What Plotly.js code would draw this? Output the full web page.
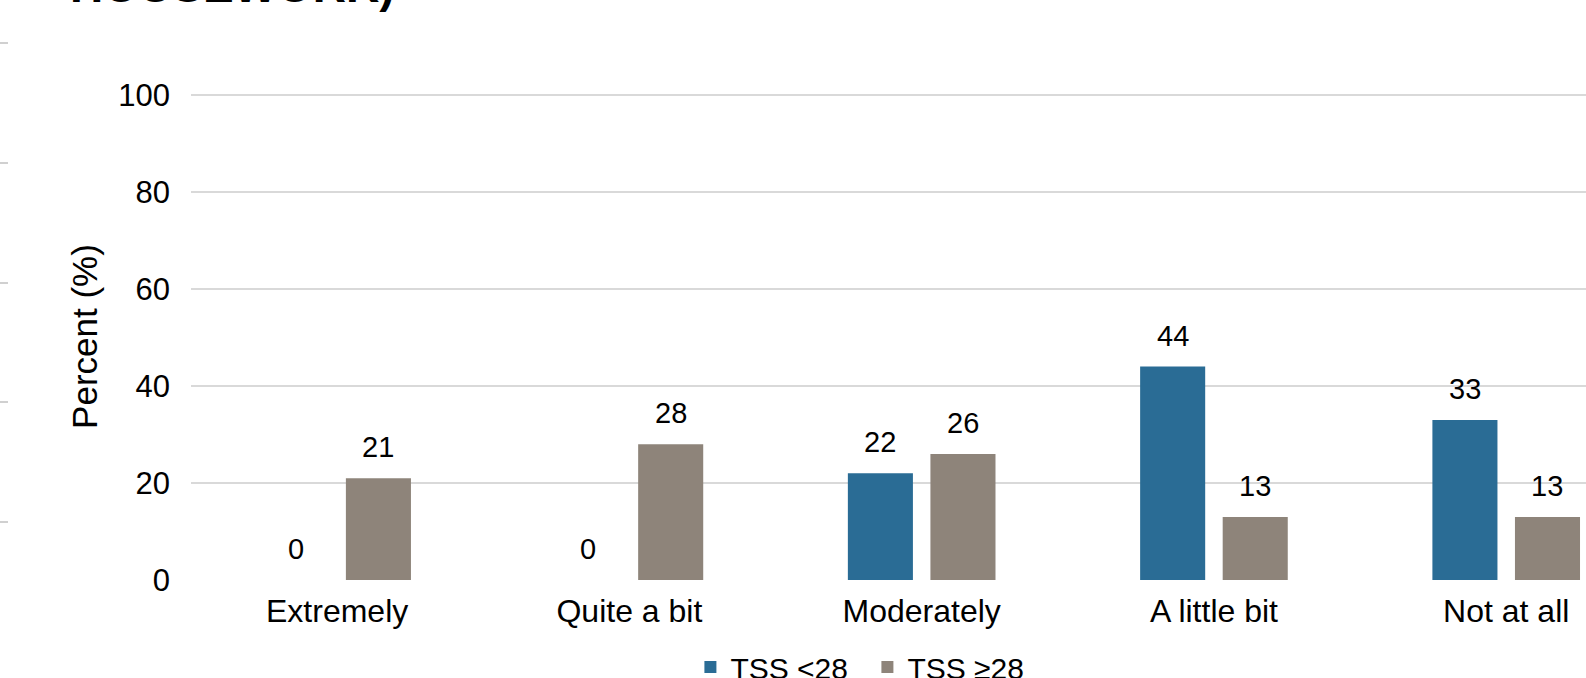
<!DOCTYPE html>
<html>
<head>
<meta charset="utf-8">
<script src="https://cdn.plot.ly/plotly-3.0.1.min.js"></script>
<style>
html,body{margin:0;padding:0;background:#fff;overflow:hidden;}
#chart{width:1586px;height:678px;}
</style>
</head>
<body>
<div id="chart"></div>
<script>
const categories = ["Extremely", "Quite a bit", "Moderately", "A little bit", "Not at all"];
const seriesNames = ["TSS <28", "TSS \u226528"];
const tssLow = [0, 0, 22, 44, 33];
const tssHigh = [21, 28, 26, 13, 13];
const yTicks = [0, 20, 40, 60, 80, 100];
const titleText = "HOUSEWORK)";
const yTitle = "Percent (%)";

const blue = "#2a6c95";
const gray = "#8e847a";
const FONT = "Liberation Sans, Arial, Helvetica, sans-serif";

const bargap = 0.435;
const bargroupgap = 0.212;
const offset = (1 - bargap) / 4;

const traces = [
  {type: "bar", name: seriesNames[0], x: categories, y: tssLow,
   marker: {color: blue, line: {width: 0}}, hoverinfo: "none"},
  {type: "bar", name: seriesNames[1], x: categories, y: tssHigh,
   marker: {color: gray, line: {width: 0}}, hoverinfo: "none"}
];

const annotations = [];
[tssLow, tssHigh].forEach((vals, s) => {
  vals.forEach((v, i) => {
    annotations.push({
      x: i + (s === 0 ? -offset : offset), y: v, xref: "x", yref: "y",
      text: String(v), showarrow: false, yanchor: "bottom", yshift: 13,
      font: {family: FONT, size: 29, color: "#000"}
    });
  });
});
annotations.push({
  xref: "paper", yref: "paper", x: -0.0885, y: 1 + 79 / 487, xanchor: "left", yanchor: "bottom",
  text: "<b>" + titleText + "</b>", showarrow: false,
  font: {family: FONT, size: 46, color: "#000"}
});

const deco = [43, 163, 283, 402, 522];
const shapes = deco.map(py => ({
  type: "line", xref: "paper", yref: "paper",
  x0: -191 / 1395, x1: (8 - 191) / 1395,
  y0: (580 - py) / 487, y1: (580 - py) / 487,
  line: {color: "#d0d0d0", width: 2}
}));

const layout = {
  width: 1586, height: 678,
  margin: {l: 191, r: 0, t: 93, b: 98},
  paper_bgcolor: "#fff", plot_bgcolor: "#fff",
  barmode: "group", bargap: bargap, bargroupgap: bargroupgap,
  showlegend: true,
  legend: {orientation: "h", xref: "paper", x: 0.358, xanchor: "left",
           yref: "container", y: 1 - 641 / 678, yanchor: "top",
           entrywidth: 132, entrywidthmode: "pixels",
           font: {family: FONT, size: 30, color: "#000"}, bgcolor: "rgba(0,0,0,0)",
           traceorder: "normal"},
  xaxis: {type: "category", range: [-0.5, 4.273], showgrid: false, zeroline: false,
          showline: false, ticks: "", tickfont: {family: FONT, size: 32, color: "#000"},
          ticklabelstandoff: 9, automargin: false, fixedrange: true},
  yaxis: {range: [0, 100.4], tickvals: yTicks, showgrid: true, gridcolor: "#d9d9d9", gridwidth: 1.8,
          zeroline: false, showline: false, ticks: "", automargin: false,
          tickfont: {family: FONT, size: 31, color: "#000"}, ticklabelstandoff: 20,
          title: {text: yTitle, font: {family: FONT, size: 35, color: "#000"}, standoff: 10},
          fixedrange: true},
  annotations: annotations,
  shapes: shapes
};

Plotly.newPlot("chart", traces, layout, {displayModeBar: false, staticPlot: true});
</script>
</body>
</html>
